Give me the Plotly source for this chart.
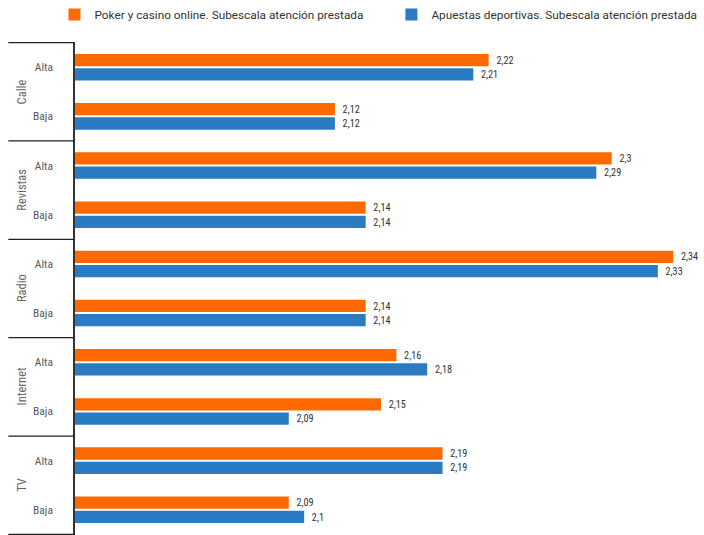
import plotly.graph_objects as go

# Media groups (top to bottom) and the two levels inside each one
groups = ["Calle", "Revistas", "Radio", "Internet", "TV"]
levels = ["Alta", "Baja"]

# Mean scores for each group/level pair, in the same order
poker_casino = [2.22, 2.12, 2.30, 2.14, 2.34, 2.14, 2.16, 2.15, 2.19, 2.09]
apuestas_dep = [2.21, 2.12, 2.29, 2.14, 2.33, 2.14, 2.18, 2.09, 2.19, 2.10]

series_names = [
    "Poker y casino online. Subescala atención prestada",
    "Apuestas deportivas. Subescala atención prestada",
]
series_colors = ["#FF6A00", "#2A7BC2"]
legend_ids = ["legend", "legend2"]

# Unique category keys, shown on the axis only by their level name
cat_keys = [f"{g} · {lv}" for g in groups for lv in levels]
cat_text = [lv for g in groups for lv in levels]

FONT = "Liberation Sans Narrow, Roboto Condensed, Roboto, sans-serif"

fig = go.Figure()
for name, vals, col, lg in zip(series_names, [poker_casino, apuestas_dep],
                               series_colors, legend_ids):
    fig.add_trace(go.Bar(
        name=name,
        y=cat_keys,
        x=vals,
        orientation="h",
        marker=dict(color=col, line=dict(width=0)),
        text=vals,
        texttemplate="\u00a0\u00a0%{x}",
        textposition="outside",
        textfont=dict(family=FONT, size=12.5, color="#333333"),
        cliponaxis=False,
        legend=lg,
    ))

# Rotated group names and the horizontal separators between groups
n_lv = len(levels)
for i, g in enumerate(groups):
    mid = i * n_lv + (n_lv - 1) / 2
    fig.add_annotation(
        x=-0.1, xref="paper", y=mid, yref="y",
        text=g, textangle=-90, showarrow=False,
        font=dict(family=FONT, size=12.5, color="#666666"),
    )
for b in range(len(groups) + 1):
    yb = b * n_lv - 0.5
    fig.add_shape(
        type="line", xref="paper", yref="y",
        x0=-0.106, x1=0, y0=yb, y1=yb,
        line=dict(color="#222222", width=1.2),
    )

legend_style = dict(
    orientation="h",
    y=1.085, yanchor="top", xanchor="left",
    font=dict(family="Roboto, sans-serif", size=11.8, color="#333333"),
    bgcolor="rgba(0,0,0,0)",
)

fig.update_layout(
    width=704, height=535,
    margin=dict(l=75, r=0, t=40, b=0),
    paper_bgcolor="white", plot_bgcolor="white",
    separators=",.",
    barmode="group",
    bargap=0.42,
    bargroupgap=0.14,
    showlegend=True,
    legend=dict(x=-0.0326, **legend_style),
    legend2=dict(x=0.503, **legend_style),
    xaxis=dict(
        range=[1.951, 2.36],
        showgrid=False, zeroline=False, showline=False,
        showticklabels=False, ticks="",
    ),
    yaxis=dict(
        type="category",
        categoryorder="array", categoryarray=cat_keys,
        autorange="reversed",
        tickvals=cat_keys, ticktext=cat_text,
        tickfont=dict(family=FONT, size=11.5, color="#595959"),
        ticks="", ticklabelstandoff=18,
        showgrid=False, zeroline=False,
        showline=True, linecolor="#333333", linewidth=1.5,
    ),
)

fig.write_html("out.html")
